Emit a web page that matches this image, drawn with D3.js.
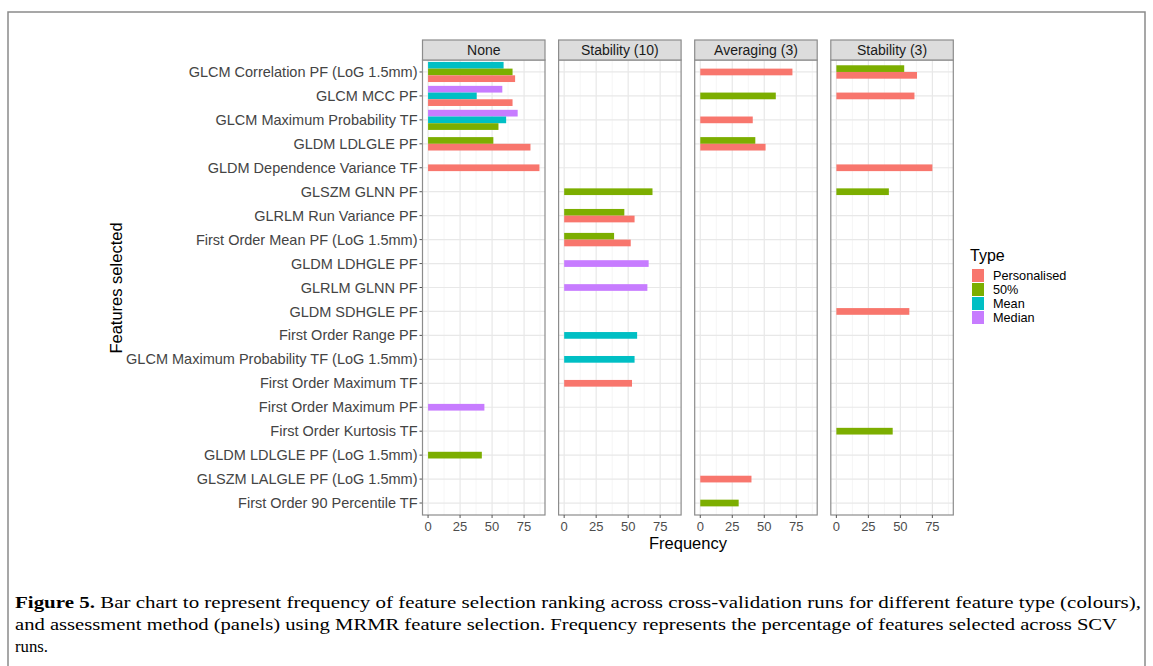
<!DOCTYPE html>
<html>
<head>
<meta charset="utf-8">
<script src="https://cdn.jsdelivr.net/npm/d3@7"></script>
<style>
  body { margin: 0; background: #fff; }
  svg { display: block; }
  .ax { font-family: "Liberation Sans", Arial, sans-serif; }
  .cap { font-family: "Liberation Serif", "DejaVu Serif", serif; }
</style>
</head>
<body>
<script>
// categories, top to bottom
var features = [
  "GLCM Correlation PF (LoG 1.5mm)", "GLCM MCC PF", "GLCM Maximum Probability TF",
  "GLDM LDLGLE PF", "GLDM Dependence Variance TF", "GLSZM GLNN PF",
  "GLRLM Run Variance PF", "First Order Mean PF (LoG 1.5mm)", "GLDM LDHGLE PF",
  "GLRLM GLNN PF", "GLDM SDHGLE PF", "First Order Range PF",
  "GLCM Maximum Probability TF (LoG 1.5mm)", "First Order Maximum TF",
  "First Order Maximum PF", "First Order Kurtosis TF", "GLDM LDLGLE PF (LoG 1.5mm)",
  "GLSZM LALGLE PF (LoG 1.5mm)", "First Order 90 Percentile TF"
];
var types = ["Personalised", "50%", "Mean", "Median"];
var typeColors = ["#F8766D", "#7CAE00", "#00BFC4", "#C77CFF"];
var panels = ["None", "Stability (10)", "Averaging (3)", "Stability (3)"];
var xTicks = [0, 25, 50, 75];

// [feature index, type, frequency]
var noneVals = [
  [0, "Mean", 59], [0, "50%", 66], [0, "Personalised", 68],
  [1, "Median", 58], [1, "Mean", 38], [1, "Personalised", 66],
  [2, "Median", 70], [2, "Mean", 61], [2, "50%", 55],
  [3, "50%", 51], [3, "Personalised", 80],
  [4, "Personalised", 87],
  [14, "Median", 44],
  [16, "50%", 42]
];
var stab10Vals = [
  [5, "50%", 69],
  [6, "50%", 47], [6, "Personalised", 55],
  [7, "50%", 39], [7, "Personalised", 52],
  [8, "Median", 66],
  [9, "Median", 65],
  [11, "Mean", 57],
  [12, "Mean", 55],
  [13, "Personalised", 53]
];
var avg3Vals = [
  [0, "Personalised", 72],
  [1, "50%", 59],
  [2, "Personalised", 41],
  [3, "50%", 43], [3, "Personalised", 51],
  [17, "Personalised", 40],
  [18, "50%", 30]
];
var stab3Vals = [
  [0, "50%", 53], [0, "Personalised", 63],
  [1, "Personalised", 61],
  [4, "Personalised", 75],
  [5, "50%", 41],
  [10, "Personalised", 57],
  [15, "50%", 44]
];
var panelVals = [noneVals, stab10Vals, avg3Vals, stab3Vals];

var W = 1153, H = 666;
var svg = d3.select("body").append("svg").attr("width", W).attr("height", H);

// outer frame
svg.append("rect").attr("x", 8).attr("y", 12).attr("width", 1137).attr("height", 700)
  .attr("fill", "none").attr("stroke", "#8a8a8a").attr("stroke-width", 1.5);

var panelTop = 60, panelBottom = 515, stripTop = 40;
var panelW = 122.5, panelGap = 13.6, firstLeft = 422.5;

var maxV = d3.max(panelVals, function(p) { return d3.max(p, function(d) { return d[2]; }); });
var x = d3.scaleLinear().domain([-0.05 * maxV, 1.05 * maxV]).range([0, panelW]);
var y = d3.scaleBand().domain(features).range([panelTop, panelBottom]).padding(0);
var color = d3.scaleOrdinal().domain(types).range(typeColors);
var barH = y.step() * 0.28;

// y axis labels
var yAxis = svg.append("g").attr("class", "ax");
features.forEach(function(f) {
  var cy = y(f) + y.bandwidth() / 2;
  yAxis.append("line").attr("x1", firstLeft - 3).attr("x2", firstLeft)
    .attr("y1", cy).attr("y2", cy).attr("stroke", "#555").attr("stroke-width", 1);
  yAxis.append("text").attr("x", firstLeft - 5).attr("y", cy).attr("dy", "0.35em")
    .attr("text-anchor", "end").attr("font-size", 14.5).attr("fill", "#444").text(f);
});

panels.forEach(function(name, pi) {
  var left = firstLeft + pi * (panelW + panelGap);
  var g = svg.append("g").attr("transform", "translate(" + left + ",0)");

  // grid
  [12.5, 37.5, 62.5, 87.5].forEach(function(v) {
    g.append("line").attr("x1", x(v)).attr("x2", x(v)).attr("y1", panelTop).attr("y2", panelBottom)
      .attr("stroke", "#f3f3f3").attr("stroke-width", 0.8);
  });
  xTicks.forEach(function(v) {
    g.append("line").attr("x1", x(v)).attr("x2", x(v)).attr("y1", panelTop).attr("y2", panelBottom)
      .attr("stroke", "#e8e8e8").attr("stroke-width", 1.2);
  });
  features.forEach(function(f) {
    var cy = y(f) + y.bandwidth() / 2;
    g.append("line").attr("x1", 0).attr("x2", panelW).attr("y1", cy).attr("y2", cy)
      .attr("stroke", "#e8e8e8").attr("stroke-width", 1.2);
  });

  // bars, dodged and centred on the category
  var rows = d3.group(panelVals[pi], function(d) { return d[0]; });
  rows.forEach(function(list, fi) {
    var sorted = list.slice().sort(function(a, b) { return types.indexOf(b[1]) - types.indexOf(a[1]); });
    var cy = y(features[fi]) + y.bandwidth() / 2;
    var top = cy - sorted.length * barH / 2;
    sorted.forEach(function(d, k) {
      g.append("rect").attr("x", x(0)).attr("y", top + k * barH)
        .attr("width", x(d[2]) - x(0)).attr("height", barH)
        .attr("fill", color(d[1]));
    });
  });

  // border
  g.append("rect").attr("x", 0).attr("y", panelTop).attr("width", panelW)
    .attr("height", panelBottom - panelTop).attr("fill", "none").attr("stroke", "#8c8c8c").attr("stroke-width", 1.2);

  // strip
  g.append("rect").attr("x", 0).attr("y", stripTop).attr("width", panelW).attr("height", panelTop - stripTop)
    .attr("fill", "#dcdcdc").attr("stroke", "#8c8c8c").attr("stroke-width", 1.2);
  g.append("text").attr("class", "ax").attr("x", panelW / 2).attr("y", (stripTop + panelTop) / 2)
    .attr("dy", "0.35em").attr("text-anchor", "middle").attr("font-size", 14).attr("fill", "#1a1a1a").text(name);

  // x axis
  var xa = g.append("g").attr("class", "ax");
  xTicks.forEach(function(v) {
    xa.append("line").attr("x1", x(v)).attr("x2", x(v)).attr("y1", panelBottom).attr("y2", panelBottom + 3)
      .attr("stroke", "#555");
    xa.append("text").attr("x", x(v)).attr("y", panelBottom + 11).attr("dy", "0.35em")
      .attr("text-anchor", "middle").attr("font-size", 13).attr("fill", "#4d4d4d").text(v);
  });
});

// axis titles
svg.append("text").attr("class", "ax").attr("x", 688).attr("y", 543).attr("dy", "0.35em")
  .attr("text-anchor", "middle").attr("font-size", 16.5).attr("fill", "#000").text("Frequency");
svg.append("text").attr("class", "ax").attr("transform", "translate(116,288) rotate(-90)")
  .attr("dy", "0.35em").attr("text-anchor", "middle").attr("font-size", 16.5).attr("fill", "#000")
  .text("Features selected");

// legend
var lg = svg.append("g").attr("class", "ax").attr("transform", "translate(970,0)");
lg.append("text").attr("x", 0).attr("y", 255).attr("dy", "0.35em").attr("font-size", 16).text("Type");
types.forEach(function(t, i) {
  var ty = 269 + i * 14;
  lg.append("rect").attr("x", 2).attr("y", ty).attr("width", 12).attr("height", 13).attr("fill", color(t));
  lg.append("text").attr("x", 23).attr("y", ty + 6.5).attr("dy", "0.35em").attr("font-size", 12.7)
    .attr("fill", "#000").text(t);
});

// caption
var cap = svg.append("g").attr("class", "cap").attr("font-size", 16).attr("fill", "#000");
var l1 = cap.append("text").attr("x", 15).attr("y", 608).attr("textLength", 1126).attr("lengthAdjust", "spacingAndGlyphs");
l1.append("tspan").attr("font-weight", "bold").text("Figure 5.");
l1.append("tspan").text(" Bar chart to represent frequency of feature selection ranking across cross-validation runs for different feature type (colours),");
cap.append("text").attr("x", 15).attr("y", 630).attr("textLength", 1102).attr("lengthAdjust", "spacingAndGlyphs")
  .text("and assessment method (panels) using MRMR feature selection. Frequency represents the percentage of features selected across SCV");
cap.append("text").attr("x", 15).attr("y", 652).attr("textLength", 33).attr("lengthAdjust", "spacingAndGlyphs").text("runs.");
</script>
</body>
</html>
